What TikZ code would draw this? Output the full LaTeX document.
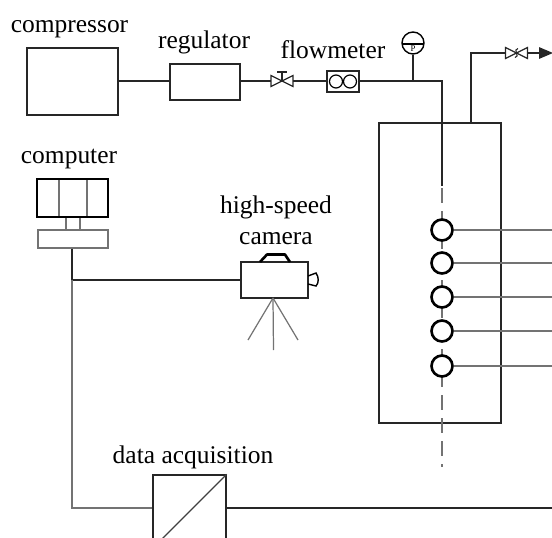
\documentclass[tikz,border=0pt]{standalone}
\usepackage{fontspec}
\setmainfont{Liberation Serif}
\usetikzlibrary{arrows,calc}

\tikzset{
    label/.style={inner sep=0pt, anchor=base, font=\fontsize{14.5pt}{16pt}\selectfont},
    pipe/.style={line width=0.8pt, black!85},
    wire/.style={line width=0.7pt, black!55},
    box/.style={draw, black!85, rectangle, line width=0.8pt, inner sep=0pt},
    probe/.style={draw, circle, line width=1.5pt, minimum size=0.42cm, inner sep=0pt},
    bowtie/.pic={
        \draw[line width=0.7pt, black!85] (-11,-5.5) -- (11,5.5) -- (11,-5.5) -- (-11,5.5) -- cycle;
        \coordinate (-left) at (-11,0);
        \coordinate (-right) at (11,0);
    }
}

\begin{document}
\begin{tikzpicture}[x=0.02cm, y=-0.02cm]
    \useasboundingbox (0,0) rectangle (552,538);
    \clip (0,0) rectangle (552,538);

    \node[box, minimum width=1.82cm, minimum height=1.34cm] (compressor) at (72.5,81.5) {};
    \node[box, minimum width=1.4cm, minimum height=0.72cm] (regulator) at (205,82) {};
    \node[box, minimum width=0.64cm, minimum height=0.42cm] (flowmeter) at (343,81.5) {};
    \node[box, minimum width=2.44cm, minimum height=6cm] (vessel) at (440,273) {};
    \node[box, black!55, minimum width=0.28cm, minimum height=0.26cm] (neck) at (73,223.5) {};
    \node[box, black!55, minimum width=1.4cm, minimum height=0.36cm] (keyboard) at (73,239) {};
    \node[box, line width=1pt, minimum width=1.34cm, minimum height=0.72cm] (camera) at (274.5,280) {};
    \node[box, minimum width=1.46cm, minimum height=1.46cm] (daq) at (189.5,511.5) {};
    \node[draw, circle, line width=0.8pt, minimum size=0.44cm, inner sep=0pt] (gauge) at (413,43) {};

    \node[label] (compressorlabel) at (69.5,32) {compressor};
    \node[label] (regulatorlabel) at (204,48.5) {regulator};
    \node[label] (flowmeterlabel) at (333,58) {flowmeter};
    \node[label] (computerlabel) at (69,163) {computer};
    \node[label] (speedlabel) at (276,213) {high-speed};
    \node[label] (cameralabel) at (276,244) {camera};
    \node[label] (daqlabel) at (193,463) {data acquisition};
    \node[inner sep=0pt, font=\fontsize{5pt}{5pt}\selectfont] (gaugelabel) at (413,49) {P};

    % valves
    \pic (inlet) at (282,81) {bowtie};
    \pic (outlet) at (516.5,53) {bowtie};
    \draw[line width=0.7pt, black!85] (282,81) -- (282,72) (277,72) -- (287,72);
    \draw[line width=0.6pt, black!85] (518,48.5) .. controls (512,49) and (521,57) .. (515,57.5);

    % flowmeter and gauge insides
    \node[draw, circle, line width=0.7pt, minimum size=0.26cm, inner sep=0pt] (rotor1) at (336,81.5) {};
    \node[draw, circle, line width=0.7pt, minimum size=0.26cm, inner sep=0pt] (rotor2) at (350,81.5) {};
    \draw[line width=0.7pt] ($(gauge.center)+(-10,1)$) -- ($(gauge.center)+(10,1)$);

    % pipes
    \coordinate (tee) at (413,81);
    \coordinate (elbow) at (442,81);
    \coordinate (lanceend) at (442,186);
    \coordinate (outrise) at (471,123);
    \coordinate (outbend) at (471,53);
    \coordinate (outend) at (553,53);
    \draw[pipe] (compressor.east |- 0,81) -- (regulator.west |- 0,81);
    \draw[pipe] (regulator.east |- 0,81) -- (inlet-left);
    \draw[pipe] (inlet-right) -- (flowmeter.west |- 0,81);
    \draw[pipe] (flowmeter.east |- 0,81) -- (tee) -- (elbow) -- (lanceend);
    \draw[pipe] (tee) -- (gauge.south);
    \draw[pipe] (outrise) -- (outbend) -- (outlet-left);
    \draw[pipe, -triangle 45] (outlet-right) -- (outend);

    % probes
    \coordinate (dashtop) at (442,188);
    \coordinate (dashend) at (442,467);
    \draw[wire, dash pattern=on 8.5pt off 4.6pt, line width=0.8pt] (dashtop) -- (dashend);
    \foreach \n/\y in {1/230,2/263,3/297,4/331,5/366} {
        \node[probe, fill=white] (probe\n) at (442,\y) {};
        \coordinate (lead\n) at (553,\y);
        \draw[wire] (probe\n.east |- lead\n) -- (lead\n);
    }

    % computer and camera
    \draw[wire] (59,179) -- (59,217) (87,179) -- (87,217);
    \node[box, black, line width=1.6pt, minimum width=1.42cm, minimum height=0.76cm] (monitor) at (72.5,198) {};
    \coordinate (branch) at (72,280);
    \coordinate (corner) at (72,508);
    \draw[pipe] (keyboard.south -| branch) -- (branch) -- (camera.west |- branch);
    \draw[wire] (branch) -- (corner) -- (daq.west |- corner);
    \coordinate (daqend) at (553,508);
    \draw[pipe] (daq.east |- daqend) -- (daqend);
    \draw[wire, black!75] (daq.north east) -- (daq.south west);

    \draw[line width=1.5pt, line join=round] (260,262) -- (267,254.5) -- (285,254.5) -- (290,262);
    \draw[line width=0.8pt] (308,276) -- (316,273) .. controls (319,277) and (319,283) .. (316,286) -- (308,284);
    \coordinate (mount) at (273,298);
    \foreach \x/\y in {248/340,273.5/350,298/340} {
        \coordinate (foot) at (\x,\y);
        \draw[wire] (mount) -- (foot);
    }
\end{tikzpicture}
\end{document}
